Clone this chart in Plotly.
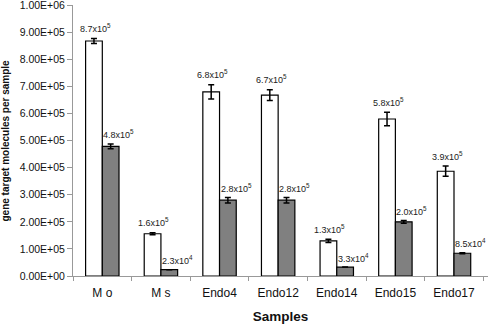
import plotly.graph_objects as go

categories = ["M o", "M s", "Endo4", "Endo12", "Endo14", "Endo15", "Endo17"]
white_vals = [8.68e5, 1.56e5, 6.80e5, 6.68e5, 1.30e5, 5.80e5, 3.87e5]
white_err = [9e3, 4e3, 2.6e4, 2.0e4, 6e3, 2.5e4, 1.9e4]
grey_vals = [4.79e5, 2.35e4, 2.80e5, 2.80e5, 3.3e4, 2.00e5, 8.4e4]
grey_err = [9e3, 0, 1.0e4, 1.0e4, 0, 5e3, 1.5e3]
white_labels = ["8.7x10<sup>5</sup>", "1.6x10<sup>5</sup>", "6.8x10<sup>5</sup>", "6.7x10<sup>5</sup>",
                "1.3x10<sup>5</sup>", "5.8x10<sup>5</sup>", "3.9x10<sup>5</sup>"]
grey_labels = ["4.8x10<sup>5</sup>", "2.3x10<sup>4</sup>", "2.8x10<sup>5</sup>", "2.8x10<sup>5</sup>",
               "3.3x10<sup>4</sup>", "2.0x10<sup>5</sup>", "8.5x10<sup>4</sup>"]
ytick_vals = [0, 1e5, 2e5, 3e5, 4e5, 5e5, 6e5, 7e5, 8e5, 9e5, 1e6]
ytick_text = ["0.00E+00", "1.00E+05", "2.00E+05", "3.00E+05", "4.00E+05", "5.00E+05",
              "6.00E+05", "7.00E+05", "8.00E+05", "9.00E+05", "1.00E+06"]

FONT = "Arial, Liberation Sans, sans-serif"

fig = go.Figure()
fig.add_trace(go.Bar(
    x=categories, y=white_vals, name="white",
    marker=dict(color="white", line=dict(color="black", width=1.2)),
    error_y=dict(type="data", array=white_err, color="black", thickness=1.5, width=3),
))
fig.add_trace(go.Bar(
    x=categories, y=grey_vals, name="grey",
    marker=dict(color="#808080", line=dict(color="black", width=1.2)),
    error_y=dict(type="data", array=grey_err, color="black", thickness=1.5, width=3),
))

annotations = []
for i, c in enumerate(categories):
    annotations.append(dict(x=c, y=white_vals[i] + white_err[i], text=white_labels[i], showarrow=False,
                            xshift=-8.5 + 1.5, yshift=10.5, yanchor="middle",
                            font=dict(family=FONT, size=9, color="#222")))
    annotations.append(dict(x=c, y=grey_vals[i] + grey_err[i], text=grey_labels[i], showarrow=False,
                            xshift=8.5 + 8, yshift=9.5, yanchor="middle",
                            font=dict(family=FONT, size=9, color="#222")))

annotations.append(dict(xref="paper", yref="paper", x=0, y=0.5, xshift=-68,
                        xanchor="center", yanchor="middle",
                        text="<b>gene target molecules per sample</b>", textangle=-90,
                        showarrow=False, font=dict(family=FONT, size=10, color="#111")))

fig.update_layout(
    width=496, height=324,
    margin=dict(l=73, r=8, t=5, b=48),
    paper_bgcolor="white", plot_bgcolor="white",
    barmode="group", bargap=0.43, bargroupgap=0,
    showlegend=False,
    font=dict(family=FONT, color="#222"),
    annotations=annotations,
)
fig.update_xaxes(
    automargin=False,
    showline=True, linecolor="#999", linewidth=1,
    ticks="outside", tickcolor="#999", ticklen=4, tickson="boundaries",
    ticklabelstandoff=6,
    tickfont=dict(family=FONT, size=12, color="#111"),
    title=dict(text="<b>Samples</b>", font=dict(family=FONT, size=13.5, color="#111"), standoff=12),
    showgrid=False,
)
fig.update_yaxes(
    automargin=False,
    range=[0, 1.001e6],
    tickvals=ytick_vals, ticktext=ytick_text,
    showline=True, linecolor="#999", linewidth=1,
    ticks="outside", tickcolor="#999", ticklen=5,
    tickfont=dict(family=FONT, size=10.5, color="#111"),
    ticklabeloverflow="allow",
    showgrid=False, zeroline=False,
)

fig.write_html("out.html", config={"displayModeBar": False},
               post_script="document.body.style.margin='0';document.body.style.overflow='hidden';")
